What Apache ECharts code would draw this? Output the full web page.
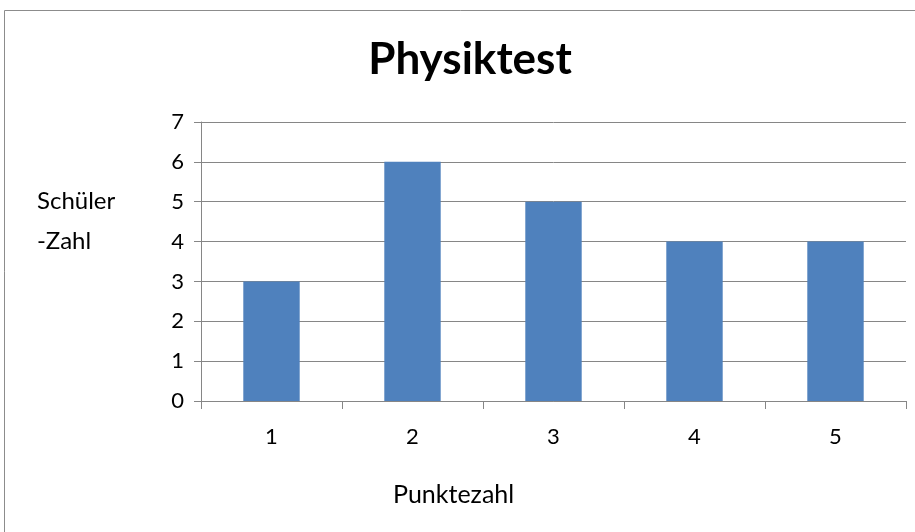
<!DOCTYPE html>
<html><head><meta charset="utf-8">
<script src="https://cdn.jsdelivr.net/npm/echarts@6/dist/echarts.min.js"></script>
<style>html,body{margin:0;padding:0;background:#fff}#c{width:915px;height:532px}</style>
</head><body><div id="c"></div>
<script>
const categories = ['1','2','3','4','5'];
const values = [3, 6, 5, 4, 4];
const yTicks = [0,1,2,3,4,5,6,7];
const titleText = 'Physiktest';
const yName = 'Schüler\n-Zahl';
const xName = 'Punktezahl';
const font = 'Lato';
const chart = echarts.init(document.getElementById('c'));
chart.setOption({
  animation: false,
  title: {text: titleText, left: 465, top: 33, textAlign: 'center',
    textStyle: {fontFamily: font, fontSize: 44, fontWeight: 'bold', color: '#000'}},
  graphic: [
    {type: 'rect', shape: {x: 4.5, y: 10.5, width: 930, height: 540}, style: {fill: 'none', stroke: '#8c8c8c', lineWidth: 1}, silent: true},
    {type: 'text', left: 37, top: 181, style: {text: yName, fontFamily: font, fontSize: 24, fill: '#000', lineHeight: 40}},
    {type: 'text', left: 393, top: 482, style: {text: xName, fontFamily: font, fontSize: 25, fill: '#000'}}
  ],
  grid: {left: 201, right: 9, top: 122, bottom: 131, containLabel: false},
  xAxis: {type: 'category', data: categories,
    axisLine: {lineStyle: {color: '#868686'}},
    axisTick: {show: true, length: 8, lineStyle: {color: '#868686'}},
    axisLabel: {color: '#000', fontFamily: font, fontSize: 22, margin: 25}},
  yAxis: {type: 'value', min: 0, max: 7, interval: 1,
    axisLine: {show: true, lineStyle: {color: '#868686'}},
    axisTick: {show: true, length: 7, lineStyle: {color: '#868686'}},
    axisLabel: {color: '#000', fontFamily: font, fontSize: 22, margin: 17,
      formatter: v => yTicks.includes(v) ? String(v) : ''},
    splitLine: {lineStyle: {color: '#868686'}}},
  series: [{type: 'bar', data: values, barWidth: '40%', itemStyle: {color: '#4F81BD'}}]
});
</script></body></html>
